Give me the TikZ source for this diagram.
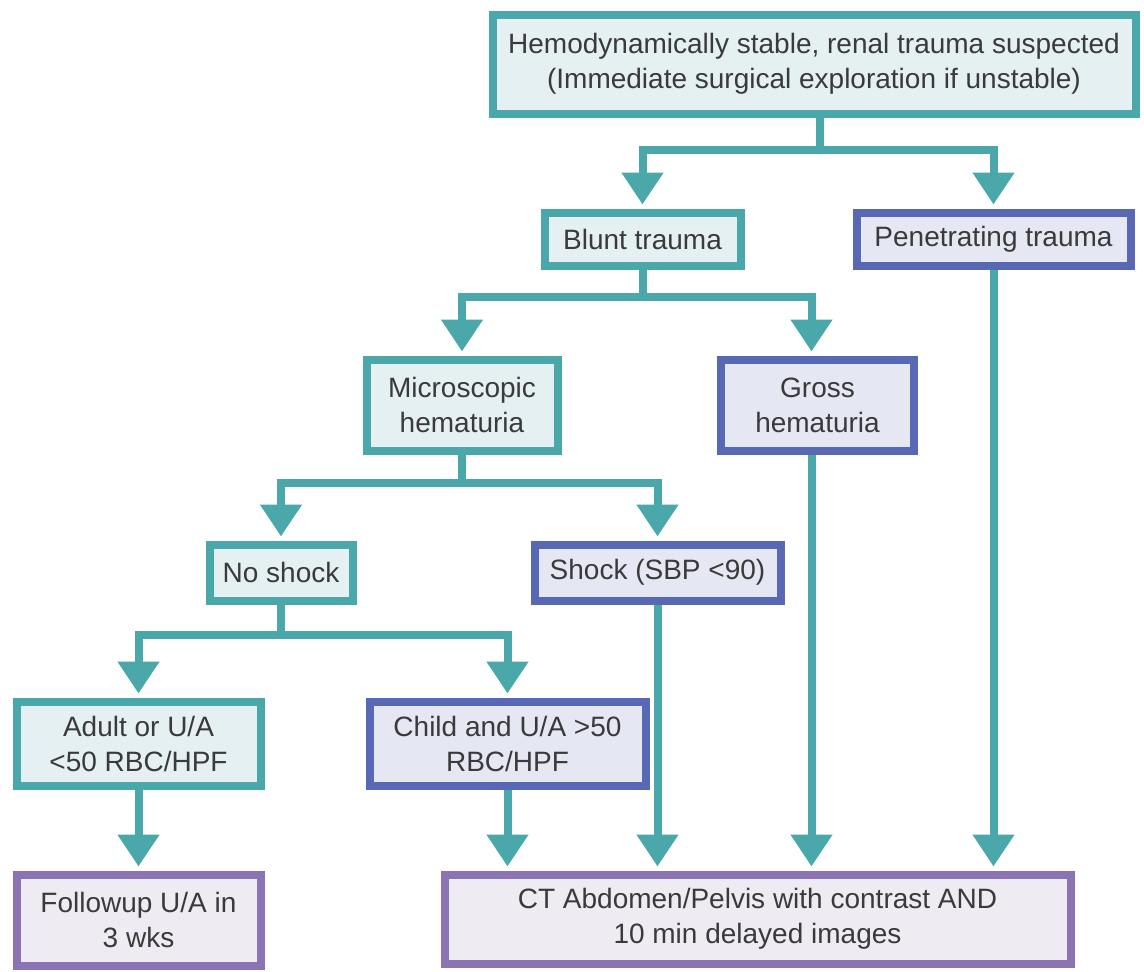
\documentclass[tikz,border=0pt]{standalone}
\usepackage{fontspec}
\setmainfont{Liberation Sans}
\usetikzlibrary{arrows.meta,backgrounds}
\definecolor{tealline}{RGB}{74,168,170}
\definecolor{tealfill}{RGB}{228,240,242}
\definecolor{blueline}{RGB}{88,104,180}
\definecolor{bluefill}{RGB}{229,231,243}
\definecolor{purpline}{RGB}{140,116,180}
\definecolor{purpfill}{RGB}{238,235,243}
\definecolor{txt}{RGB}{58,58,58}
\begin{document}
\begin{tikzpicture}[x=1pt,y=-1pt,
  box/.style={rectangle, line width=8pt, inner sep=0pt, align=center,
    font=\fontsize{28}{35}\selectfont, text=txt},
  tealbox/.style={box, draw=tealline, fill=tealfill},
  bluebox/.style={box, draw=blueline, fill=bluefill},
  purpbox/.style={box, draw=purpline, fill=purpfill},
  flow/.style={draw=tealline, line width=8pt},
  arr/.style={flow, -{Triangle[width=40pt,length=32pt]}, shorten >=4pt}]
\useasboundingbox (0,0) rectangle (1144,972);

% boxes
\node[tealbox, minimum width=643pt, minimum height=99pt] (top) at (814,64)
  {Hemodynamically stable, renal trauma suspected\\(Immediate surgical exploration if unstable)};
\node[tealbox, minimum width=196pt, minimum height=53pt] (blunt) at (642.5,239) {Blunt trauma};
\node[bluebox, minimum width=274pt, minimum height=53pt] (pen) at (993.5,239) {Penetrating trauma};
\node[tealbox, minimum width=191pt, minimum height=91pt] (micro) at (462,405) {Microscopic\\hematuria};
\node[bluebox, minimum width=193pt, minimum height=91pt] (gross) at (817.5,405) {Gross\\hematuria};
\node[tealbox, minimum width=143pt, minimum height=56pt] (noshock) at (281,572.5) {No shock};
\node[bluebox, minimum width=246pt, minimum height=56pt] (shock) at (657.5,572.5) {Shock (SBP <90)};
\node[tealbox, minimum width=244pt, minimum height=84pt] (adult) at (138.5,743.5) {Adult or U/A\\<50 RBC/HPF};
\node[bluebox, minimum width=276pt, minimum height=84pt] (child) at (507.5,743.5) {Child and U/A >50\\RBC/HPF};
\node[purpbox, minimum width=244pt, minimum height=91pt] (follow) at (138.5,920) {Followup U/A in\\3 wks};
\node[purpbox, minimum width=626pt, minimum height=89pt] (ct) at (757.5,919)
  {CT Abdomen/Pelvis with contrast AND\\10 min delayed images};

% branch points
\coordinate (b1) at ([xshift=6pt]top.south |- 0,150);
\coordinate (b2) at (blunt.south |- 0,297);
\coordinate (b3) at (micro.south |- 0,483);
\coordinate (b4) at (noshock.south |- 0,635);

\begin{pgfonlayer}{background}
  \draw[arr] ([xshift=6pt]top.south) -- (b1) -| (blunt.north);
  \draw[arr] ([xshift=6pt]top.south) -- (b1) -| (pen.north);
  \draw[arr] (blunt.south) -- (b2) -| (micro.north);
  \draw[arr] (blunt.south) -- (b2) -| ([xshift=-6pt]gross.north);
  \draw[arr] (micro.south) -- (b3) -| (noshock.north);
  \draw[arr] (micro.south) -- (b3) -| (shock.north);
  \draw[arr] (noshock.south) -- (b4) -| (adult.north);
  \draw[arr] (noshock.south) -- (b4) -| (child.north);
  \draw[arr] (adult.south) -- (follow.north);
  \draw[arr] (child.south) -- (child.south |- ct.north);
  \draw[arr] (shock.south) -- (shock.south |- ct.north);
  \draw[arr] ([xshift=-6pt]gross.south) -- ([xshift=-6pt]gross.south |- ct.north);
  \draw[arr] (pen.south) -- (pen.south |- ct.north);
\end{pgfonlayer}
\end{tikzpicture}
\end{document}
